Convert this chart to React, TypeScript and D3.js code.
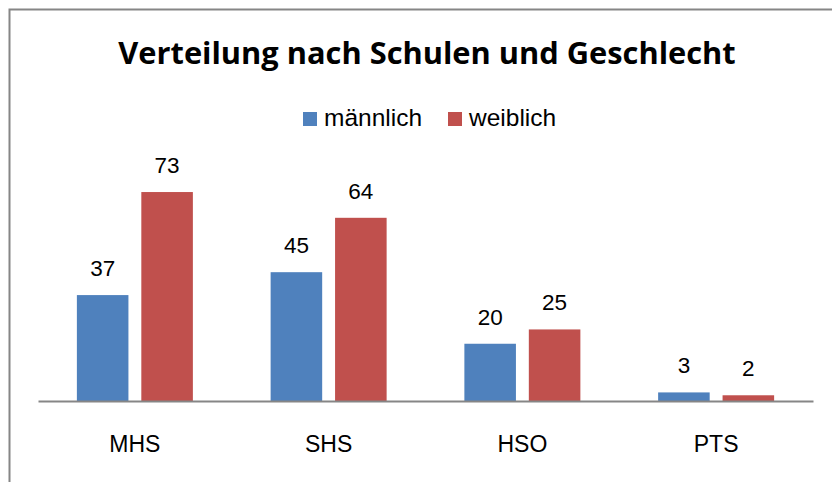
import { useEffect, useRef } from 'react';
import * as d3 from 'd3';

const categories = ['MHS', 'SHS', 'HSO', 'PTS'];
const seriesNames = ['männlich', 'weiblich'];
const maennlich = [37, 45, 20, 3];
const weiblich = [73, 64, 25, 2];
const colors = ['#4F81BD', '#C0504D'];
const title = 'Verteilung nach Schulen und Geschlecht';

const App = () => {
    const svgRef = useRef<SVGSVGElement>(null);
    const width = 832;
    const height = 482;
    const plot = { left: 38, right: 813, top: 172, bottom: 401 };

    useEffect(() => {
        const svg = d3.select(svgRef.current);
        svg.selectAll('*').remove();
        const font = '"Liberation Sans", Arial, sans-serif';

        // chart frame (right/bottom edges fall outside the picture)
        svg.append('rect')
            .attr('x', 9.5).attr('y', 9.5)
            .attr('width', 840).attr('height', 490)
            .attr('fill', 'white')
            .attr('stroke', '#868686')
            .attr('stroke-width', 2);

        svg.append('text')
            .text(title)
            .attr('x', 427).attr('y', 64)
            .attr('text-anchor', 'middle')
            .attr('font-family', '"Open Sans", sans-serif')
            .attr('font-weight', 'bold')
            .attr('font-size', 30.8)
            .attr('fill', '#000');

        const x0 = d3.scaleBand<string>()
            .domain(categories)
            .range([plot.left, plot.right]);

        const x1 = d3.scaleBand<string>()
            .domain(seriesNames)
            .range([-58, 58])
            .paddingInner(0.2);

        const y = d3.scaleLinear()
            .domain([0, 80])
            .range([plot.bottom, plot.top]);

        const rows = categories.map((c, i) => ({ cat: c, vals: [maennlich[i], weiblich[i]] }));

        const groups = svg.selectAll('g.grp')
            .data(rows)
            .join('g')
            .attr('class', 'grp')
            .attr('transform', d => 'translate(' + (x0(d.cat)! + x0.bandwidth() / 2) + ',0)');

        groups.selectAll('rect')
            .data(d => d.vals.map((v, j) => ({ name: seriesNames[j], v, j })))
            .join('rect')
            .attr('x', d => x1(d.name)!)
            .attr('y', d => y(d.v))
            .attr('width', x1.bandwidth())
            .attr('height', d => y(0) - y(d.v))
            .attr('fill', d => colors[d.j]);

        groups.selectAll('text')
            .data(d => d.vals.map((v, j) => ({ name: seriesNames[j], v, j })))
            .join('text')
            .text(d => d.v)
            .attr('x', d => x1(d.name)! + x1.bandwidth() / 2)
            .attr('y', d => y(d.v) - 19)
            .attr('text-anchor', 'middle')
            .attr('font-family', font)
            .attr('font-size', 22.5)
            .attr('fill', '#000');

        // category axis
        const axis = svg.append('g')
            .attr('transform', 'translate(0,' + plot.bottom + ')')
            .call(d3.axisBottom(x0).tickSize(0).tickPadding(0));
        axis.select('.domain').attr('stroke', '#868686').attr('stroke-width', 2);
        axis.selectAll('.tick text')
            .attr('dy', null)
            .attr('y', 51)
            .attr('font-family', font)
            .attr('font-size', 23)
            .attr('fill', '#000');

        // legend
        const legend = svg.append('g');
        const legX = [303, 448];
        seriesNames.forEach((n, i) => {
            legend.append('rect')
                .attr('x', legX[i]).attr('y', 112)
                .attr('width', 14).attr('height', 14)
                .attr('fill', colors[i]);
            legend.append('text')
                .text(n)
                .attr('x', legX[i] + 21).attr('y', 126)
                .attr('font-family', font)
                .attr('font-size', 24.5)
                .attr('fill', '#000');
        });
    }, []);

    return (
        <div>
            <svg ref={svgRef} width={width} height={height} style={{ position: 'absolute', left: 0, top: 0 }}></svg>
        </div>
    );
};

export default App;
